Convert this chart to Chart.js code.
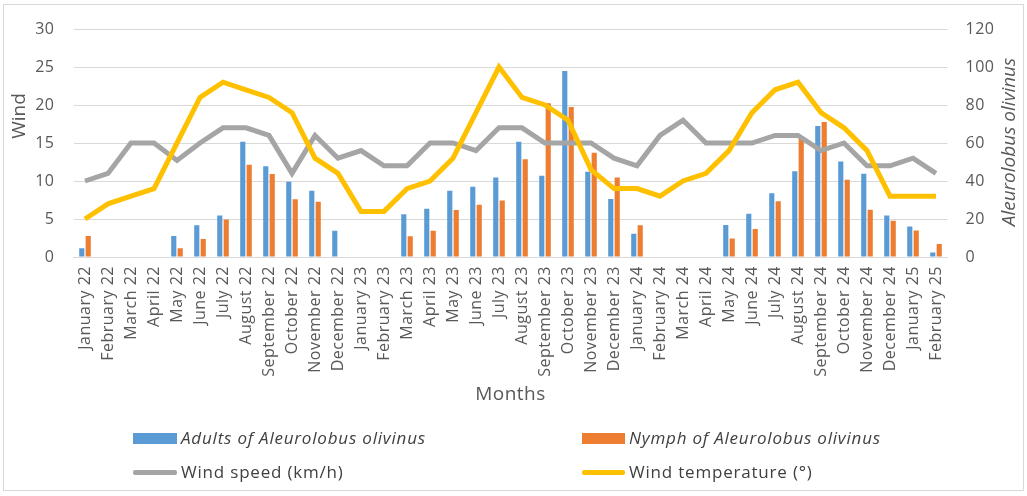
<!DOCTYPE html>
<html>
<head>
<meta charset="utf-8">
<script src="https://cdn.jsdelivr.net/npm/chart.js@4.4.1/dist/chart.umd.min.js"></script>
<style>
  html, body { margin: 0; padding: 0; background: #fff; }
  #wrap { position: relative; width: 1027px; height: 496px; overflow: hidden; font-family: "Open Sans", sans-serif; }
  #frame { position: absolute; left: 3px; top: 4px; width: 1019px; height: 485px; border: 1px solid #d9d9d9; pointer-events: none; }
  canvas { position: absolute; left: 0; top: 0; }
  .leg { position: absolute; font-size: 17px; color: #404040; line-height: 20px; white-space: nowrap; letter-spacing: 0.8px; }
  .leg i { font-style: italic; }
  .sw { position: absolute; }
</style>
</head>
<body>
<div id="wrap">
  <canvas id="c" width="1027" height="496"></canvas>
  <div id="frame"></div>
  <div class="sw" style="left:133px;top:433px;width:44px;height:11px;background:#5B9BD5"></div>
  <div class="leg" style="left:181px;top:428px"><i>Adults of Aleurolobus olivinus</i></div>
  <div class="sw" style="left:582px;top:433px;width:43px;height:11px;background:#ED7D31"></div>
  <div class="leg" style="left:629px;top:428px"><i>Nymph of Aleurolobus olivinus</i></div>
  <div class="sw" style="left:133px;top:470px;width:44px;height:5px;background:#A5A5A5;border-radius:2px"></div>
  <div class="leg" style="left:181px;top:462px">Wind speed (km/h)</div>
  <div class="sw" style="left:582px;top:470px;width:43px;height:5px;background:#FFC000;border-radius:2px"></div>
  <div class="leg" style="left:629px;top:462px">Wind temperature (°)</div>
</div>
<script>
const months = ["January 22","February 22","March 22","April 22","May 22","June 22","July 22","August 22","September 22","October 22","November 22","December 22",
  "January 23","February 23","March 23","April 23","May 23","June 23","July 23","August 23","September 23","October 23","November 23","December 23",
  "January 24","February 24","March 24","April 24","May 24","June 24","July 24","August 24","September 24","October 24","November 24","December 24",
  "January 25","February 25"];
const adults = [4.6,0,0,0,11,16.7,21.8,60.7,47.7,39.6,34.9,13.8,
  0,0,22.5,25.4,34.9,37,41.9,60.7,42.8,97.9,44.9,30.5,
  12.3,0,0,0,16.8,22.8,33.5,45.1,68.9,50.2,43.8,21.9,
  16.1,2.4];
const nymphs = [11,0,0,0,4.6,9.5,19.8,48.6,43.7,30.4,29.1,0,
  0,0,10.9,13.8,24.7,27.5,29.8,51.4,80.9,79,54.9,41.9,
  16.7,0,0,0,9.8,14.7,29.3,63.5,71,40.7,24.9,19.1,
  14,6.8];
const windSpeed = [10,11,15,15,12.7,15,17,17,16,11,16,13,
  14,12,12,15,15,14,17,17,15,15,15,13,
  12,16,18,15,15,15,16,16,14,15,12,12,
  13,11];
const windTemp = [5,7,8,9,15,21,23,22,21,19,13,11,
  6,6,9,10,13,19,25,21,20,18,11.5,9,
  9,8,10,11,14,19,22,23,19,17,14,8,
  8,8];
const leftTitle = "Wind";
const rightTitle = "Aleurolobus olivinus";
const xTitle = "Months";

const FONT = "'Open Sans', sans-serif";
const TXT = "#595959";

const spacingPlugin = {
  id: 'spacing',
  beforeDraw(chart) { try { chart.ctx.letterSpacing = '0.5px'; } catch (e) {} },
  beforeDatasetsDraw(chart) { try { chart.ctx.letterSpacing = '0px'; } catch (e) {} }
};

const titlePlugin = {
  id: 'sideTitles',
  afterDraw(chart) {
    const ctx = chart.ctx;
    ctx.save();
    ctx.fillStyle = TXT;
    ctx.textAlign = 'center';
    ctx.textBaseline = 'middle';
    ctx.font = "19px " + FONT;
    ctx.translate(20, 116);
    ctx.rotate(-Math.PI / 2);
    ctx.fillText(leftTitle, 0, 0);
    ctx.restore();
    ctx.save();
    ctx.fillStyle = TXT;
    ctx.textAlign = 'center';
    ctx.textBaseline = 'middle';
    ctx.font = "italic 19px " + FONT;
    ctx.translate(1010, 142);
    ctx.rotate(-Math.PI / 2);
    ctx.fillText(rightTitle, 0, 0);
    ctx.restore();
  }
};

new Chart(document.getElementById('c'), {
  data: {
    labels: months,
    datasets: [
      { type: 'line', label: 'Wind temperature (°)', data: windTemp, yAxisID: 'y', borderColor: '#FFC000', backgroundColor: '#FFC000', borderWidth: 5, pointRadius: 0, tension: 0, order: 0 },
      { type: 'line', label: 'Wind speed (km/h)', data: windSpeed, yAxisID: 'y', borderColor: '#A5A5A5', backgroundColor: '#A5A5A5', borderWidth: 5, pointRadius: 0, tension: 0, order: 1 },
      { type: 'bar', label: 'Adults of Aleurolobus olivinus', data: adults, yAxisID: 'y2', backgroundColor: '#5B9BD5', categoryPercentage: 0.56, barPercentage: 0.8, order: 2 },
      { type: 'bar', label: 'Nymph of Aleurolobus olivinus', data: nymphs, yAxisID: 'y2', backgroundColor: '#ED7D31', categoryPercentage: 0.56, barPercentage: 0.8, order: 3 }
    ]
  },
  options: {
    responsive: false,
    animation: false,
    devicePixelRatio: 1,
    layout: { padding: { top: 29, bottom: 88, left: 0, right: 0 } },
    plugins: { legend: { display: false }, tooltip: { enabled: false } },
    scales: {
      x: {
        grid: { display: false, drawTicks: false },
        border: { display: true, color: '#d9d9d9', width: 1 },
        ticks: { color: TXT, font: { family: FONT, size: 16 }, minRotation: 90, maxRotation: 90, autoSkip: false, padding: 9 },
        title: { display: true, text: xTitle, color: TXT, font: { family: FONT, size: 19 }, padding: { top: 0, bottom: 2 } },
        afterFit(s) { s.height = 151; }
      },
      y: {
        position: 'left', min: 0, max: 30,
        ticks: { stepSize: 5, color: TXT, font: { family: FONT, size: 16 }, padding: 19 },
        grid: { color: '#d9d9d9', drawTicks: false },
        border: { display: false },
        afterFit(s) { s.width = 73.5; }
      },
      y2: {
        position: 'right', min: 0, max: 120,
        ticks: { stepSize: 20, color: TXT, font: { family: FONT, size: 16 }, padding: 18 },
        grid: { drawOnChartArea: false, drawTicks: false },
        border: { display: false },
        afterFit(s) { s.width = 79.5; }
      }
    }
  },
  plugins: [spacingPlugin, titlePlugin]
});
</script>
</body>
</html>
